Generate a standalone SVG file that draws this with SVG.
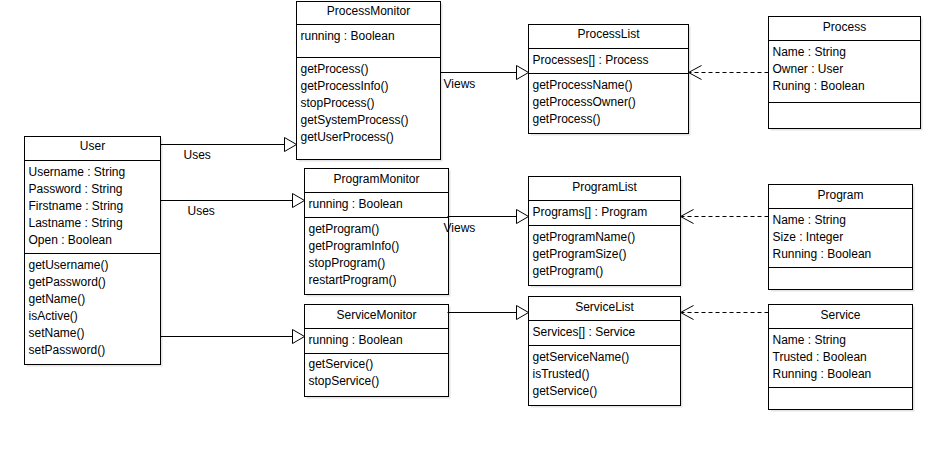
<svg xmlns="http://www.w3.org/2000/svg" width="944" height="457" viewBox="0 0 944 457">
<style>
.box{fill:#fff;stroke:#000;stroke-width:1}
.sh{fill:#e4e4e4;stroke:none}
.sep{stroke:#000;stroke-width:1}
text{font-family:"Liberation Sans",Arial,sans-serif;font-size:12px;fill:#000}
.t{text-anchor:middle}
.ln{stroke:#000;stroke-width:1;fill:none}
.tri{fill:#fff;stroke:#000;stroke-width:1}
.dash{stroke:#000;stroke-width:1;fill:none;stroke-dasharray:4,3}
</style>
<rect width="944" height="457" fill="#fff"/>
<g transform="translate(0.5,0.5)">
<g id="User">
<rect class="sh" x="26" y="138" width="136" height="228"/>
<rect class="box" x="24" y="136" width="136" height="228"/>
<line class="sep" x1="24" y1="160" x2="160" y2="160"/>
<line class="sep" x1="24" y1="253" x2="160" y2="253"/>
<text class="t" x="92" y="149">User</text>
<text x="28" y="175">Username : String</text>
<text x="28" y="192">Password : String</text>
<text x="28" y="209">Firstname : String</text>
<text x="28" y="226">Lastname : String</text>
<text x="28" y="243">Open : Boolean</text>
<text x="28" y="268">getUsername()</text>
<text x="28" y="285">getPassword()</text>
<text x="28" y="302">getName()</text>
<text x="28" y="319">isActive()</text>
<text x="28" y="336">setName()</text>
<text x="28" y="353">setPassword()</text>
</g>
<g id="ProcessMonitor">
<rect class="sh" x="298" y="3" width="144" height="158"/>
<rect class="box" x="296" y="1" width="144" height="158"/>
<line class="sep" x1="296" y1="24" x2="440" y2="24"/>
<line class="sep" x1="296" y1="57" x2="440" y2="57"/>
<text class="t" x="368" y="14">ProcessMonitor</text>
<text x="300" y="39">running : Boolean</text>
<text x="300" y="72">getProcess()</text>
<text x="300" y="89">getProcessInfo()</text>
<text x="300" y="106">stopProcess()</text>
<text x="300" y="123">getSystemProcess()</text>
<text x="300" y="140">getUserProcess()</text>
</g>
<g id="ProcessList">
<rect class="sh" x="530" y="26" width="160" height="109"/>
<rect class="box" x="528" y="24" width="160" height="109"/>
<line class="sep" x1="528" y1="48" x2="688" y2="48"/>
<line class="sep" x1="528" y1="73" x2="688" y2="73"/>
<text class="t" x="608" y="37">ProcessList</text>
<text x="532" y="63">Processes[] : Process</text>
<text x="532" y="88">getProcessName()</text>
<text x="532" y="105">getProcessOwner()</text>
<text x="532" y="122">getProcess()</text>
</g>
<g id="Process">
<rect class="sh" x="770" y="18" width="152" height="112"/>
<rect class="box" x="768" y="16" width="152" height="112"/>
<line class="sep" x1="768" y1="40" x2="920" y2="40"/>
<line class="sep" x1="768" y1="102" x2="920" y2="102"/>
<text class="t" x="844" y="30">Process</text>
<text x="772" y="55">Name : String</text>
<text x="772" y="72">Owner : User</text>
<text x="772" y="89">Runing : Boolean</text>
</g>
<g id="ProgramMonitor">
<rect class="sh" x="306" y="170" width="144" height="126"/>
<rect class="box" x="304" y="168" width="144" height="126"/>
<line class="sep" x1="304" y1="192" x2="448" y2="192"/>
<line class="sep" x1="304" y1="217" x2="448" y2="217"/>
<text class="t" x="376" y="182">ProgramMonitor</text>
<text x="308" y="207">running : Boolean</text>
<text x="308" y="232">getProgram()</text>
<text x="308" y="249">getProgramInfo()</text>
<text x="308" y="266">stopProgram()</text>
<text x="308" y="283">restartProgram()</text>
</g>
<g id="ProgramList">
<rect class="sh" x="530" y="178" width="152" height="109"/>
<rect class="box" x="528" y="176" width="152" height="109"/>
<line class="sep" x1="528" y1="200" x2="680" y2="200"/>
<line class="sep" x1="528" y1="225" x2="680" y2="225"/>
<text class="t" x="604" y="190">ProgramList</text>
<text x="532" y="215">Programs[] : Program</text>
<text x="532" y="240">getProgramName()</text>
<text x="532" y="257">getProgramSize()</text>
<text x="532" y="274">getProgram()</text>
</g>
<g id="Program">
<rect class="sh" x="770" y="186" width="144" height="105"/>
<rect class="box" x="768" y="184" width="144" height="105"/>
<line class="sep" x1="768" y1="208" x2="912" y2="208"/>
<line class="sep" x1="768" y1="267" x2="912" y2="267"/>
<text class="t" x="840" y="198">Program</text>
<text x="772" y="223">Name : String</text>
<text x="772" y="240">Size : Integer</text>
<text x="772" y="257">Running : Boolean</text>
</g>
<g id="ServiceMonitor">
<rect class="sh" x="306" y="306" width="144" height="92"/>
<rect class="box" x="304" y="304" width="144" height="92"/>
<line class="sep" x1="304" y1="328" x2="448" y2="328"/>
<line class="sep" x1="304" y1="353" x2="448" y2="353"/>
<text class="t" x="376" y="318">ServiceMonitor</text>
<text x="308" y="343">running : Boolean</text>
<text x="308" y="367">getService()</text>
<text x="308" y="384">stopService()</text>
</g>
<g id="ServiceList">
<rect class="sh" x="530" y="298" width="152" height="109"/>
<rect class="box" x="528" y="296" width="152" height="109"/>
<line class="sep" x1="528" y1="320" x2="680" y2="320"/>
<line class="sep" x1="528" y1="345" x2="680" y2="345"/>
<text class="t" x="604" y="310">ServiceList</text>
<text x="532" y="335">Services[] : Service</text>
<text x="532" y="360">getServiceName()</text>
<text x="532" y="377">isTrusted()</text>
<text x="532" y="394">getService()</text>
</g>
<g id="Service">
<rect class="sh" x="770" y="306" width="144" height="105"/>
<rect class="box" x="768" y="304" width="144" height="105"/>
<line class="sep" x1="768" y1="328" x2="912" y2="328"/>
<line class="sep" x1="768" y1="387" x2="912" y2="387"/>
<text class="t" x="840" y="318">Service</text>
<text x="772" y="343">Name : String</text>
<text x="772" y="360">Trusted : Boolean</text>
<text x="772" y="377">Running : Boolean</text>
</g>
<g id="connectors">
<line class="ln" x1="160" y1="144" x2="284" y2="144"/>
<polygon class="tri" points="284,137 296,144 284,151"/>
<text x="183" y="158">Uses</text>
<line class="ln" x1="160" y1="200" x2="292" y2="200"/>
<polygon class="tri" points="292,193 304,200 292,207"/>
<text x="187" y="214">Uses</text>
<line class="ln" x1="160" y1="336" x2="292" y2="336"/>
<polygon class="tri" points="292,329 304,336 292,343"/>
<line class="ln" x1="440" y1="72" x2="516" y2="72"/>
<polygon class="tri" points="516,65 528,72 516,79"/>
<text x="443" y="87">Views</text>
<line class="ln" x1="447" y1="216" x2="516" y2="216"/>
<polygon class="tri" points="516,209 528,216 516,223"/>
<text x="443" y="231">Views</text>
<line class="ln" x1="447" y1="312" x2="516" y2="312"/>
<polygon class="tri" points="516,305 528,312 516,319"/>
<line class="dash" x1="768" y1="72" x2="689" y2="72"/>
<polyline class="ln" points="701,65 688,72 701,79"/>
<line class="dash" x1="768" y1="216" x2="681" y2="216"/>
<polyline class="ln" points="693,209 680,216 693,223"/>
<line class="dash" x1="768" y1="312" x2="681" y2="312"/>
<polyline class="ln" points="693,305 680,312 693,319"/>
</g>
</g>
</svg>
